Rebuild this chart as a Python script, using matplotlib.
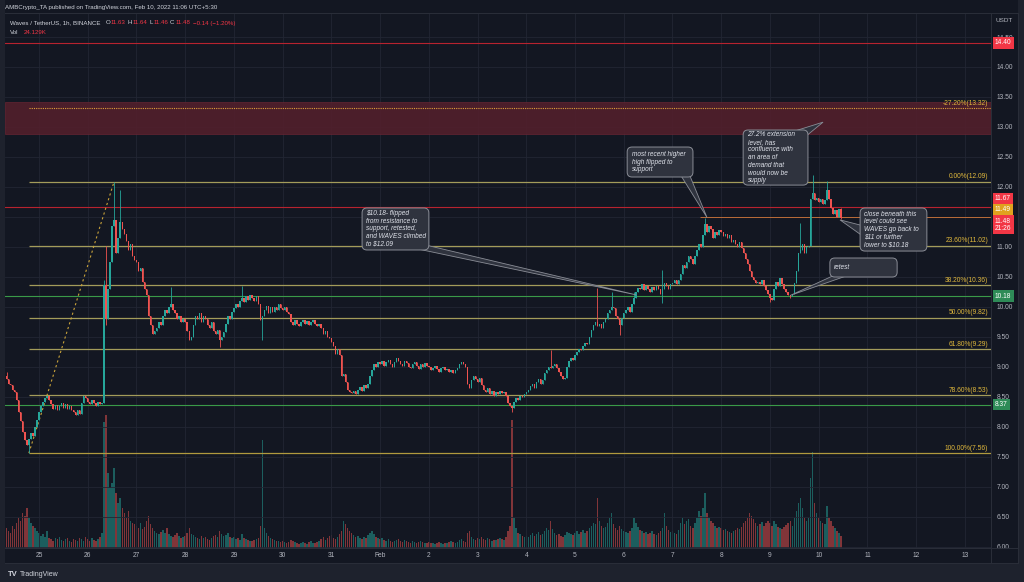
import numpy as np
import pandas as pd
import matplotlib.pyplot as plt
from matplotlib.patches import FancyBboxPatch, Polygon, Rectangle
from matplotlib.transforms import blended_transform_factory

plt.rcParams['font.family'] = ['Liberation Sans', 'DejaVu Sans']

# WAVES/USDT 1h closes (chart time UTC+5:30), Jan 24 08:00 -> Feb 10 11:00
jan24 = [8.80, 8.72, 8.70, 8.62, 8.58, 8.45, 8.25, 8.10, 7.92, 7.78, 7.70, 7.80, 7.90, 7.85, 8.00, 8.12]
jan25 = [8.25, 8.35, 8.42, 8.48, 8.52, 8.45, 8.38, 8.30, 8.36, 8.28, 8.34, 8.40, 8.32, 8.38, 8.30, 8.34, 8.28, 8.25, 8.20, 8.28, 8.22, 8.40, 8.52, 8.48]
jan26 = [8.42, 8.38, 8.45, 8.40, 8.35, 8.42, 8.38, 8.40, 10.36, 9.80, 10.30, 10.75, 11.35, 11.45, 10.90, 11.15, 11.42, 11.30, 11.22, 11.10, 10.95, 11.05, 10.85, 10.78]
jan27 = [10.75, 10.60, 10.65, 10.42, 10.30, 10.20, 9.85, 9.70, 9.55, 9.60, 9.65, 9.75, 9.70, 9.85, 9.95, 9.90, 10.00, 10.05, 9.95, 9.90, 9.80, 9.85, 9.75, 9.80]
jan28 = [9.75, 9.60, 9.45, 9.50, 9.70, 9.85, 9.80, 9.90, 9.75, 9.85, 9.80, 9.70, 9.65, 9.75, 9.60, 9.55, 9.62, 9.45, 9.50, 9.58, 9.72, 9.85, 9.80, 9.92]
jan29 = [9.98, 10.05, 10.00, 10.10, 10.15, 10.08, 10.18, 10.12, 10.20, 10.15, 10.10, 10.18, 10.05, 9.78, 9.85, 9.95, 10.02, 9.90, 10.00, 9.92, 10.00, 9.95, 10.05, 9.98]
jan30 = [9.95, 10.00, 9.92, 9.88, 9.75, 9.70, 9.78, 9.72, 9.68, 9.75, 9.78, 9.72, 9.76, 9.70, 9.74, 9.78, 9.72, 9.68, 9.72, 9.65, 9.55, 9.60, 9.50, 9.48]
jan31 = [9.42, 9.35, 9.22, 9.30, 9.20, 8.85, 8.88, 8.75, 8.62, 8.58, 8.56, 8.60, 8.55, 8.62, 8.66, 8.60, 8.70, 8.65, 8.72, 8.85, 8.95, 9.05, 9.00, 9.08]
feb1 = [9.05, 9.10, 9.02, 9.08, 9.12, 9.05, 9.00, 9.08, 9.15, 9.10, 9.05, 9.02, 9.10, 9.06, 9.00, 8.98, 9.05, 9.08, 9.02, 8.96, 9.04, 9.00, 9.06, 9.02]
feb2 = [9.00, 8.95, 8.98, 9.02, 8.96, 8.92, 8.98, 9.00, 8.94, 8.96, 8.92, 8.95, 8.90, 8.94, 8.98, 9.04, 9.08, 9.05, 9.00, 8.72, 8.65, 8.78, 8.85, 8.80]
feb3 = [8.75, 8.82, 8.70, 8.62, 8.58, 8.65, 8.55, 8.60, 8.52, 8.58, 8.55, 8.60, 8.56, 8.58, 8.52, 8.40, 8.35, 8.32, 8.42, 8.48, 8.45, 8.52, 8.50, 8.55]
feb4 = [8.58, 8.62, 8.68, 8.72, 8.65, 8.75, 8.80, 8.72, 8.78, 8.90, 8.95, 9.00, 8.98, 9.02, 9.05, 8.98, 8.92, 8.85, 8.80, 8.82, 9.00, 9.10, 9.15, 9.12]
feb5 = [9.20, 9.25, 9.30, 9.28, 9.35, 9.40, 9.38, 9.50, 9.62, 9.70, 9.75, 9.68, 9.72, 9.65, 9.75, 9.80, 9.90, 9.95, 10.00, 9.98, 9.85, 9.80, 9.70, 9.82]
feb6 = [9.90, 9.95, 10.00, 9.92, 10.05, 10.15, 10.25, 10.32, 10.30, 10.38, 10.28, 10.35, 10.30, 10.25, 10.33, 10.28, 10.35, 10.30, 10.22, 10.30, 10.40, 10.35, 10.30, 10.38]
feb7 = [10.40, 10.45, 10.38, 10.45, 10.55, 10.70, 10.65, 10.75, 10.85, 10.80, 10.72, 10.85, 10.95, 11.05, 11.00, 11.20, 11.38, 11.25, 11.35, 11.30, 11.15, 11.25, 11.20, 11.28]
feb8 = [11.25, 11.18, 11.22, 11.15, 11.20, 11.08, 11.12, 11.05, 11.00, 11.08, 10.98, 10.90, 10.80, 10.72, 10.60, 10.50, 10.45, 10.40, 10.42, 10.38, 10.45, 10.35, 10.28, 10.22]
feb9 = [10.15, 10.12, 10.30, 10.42, 10.35, 10.48, 10.38, 10.30, 10.25, 10.20, 10.18, 10.22, 10.40, 10.60, 10.90, 10.95, 11.05, 10.90, 11.00, 11.02, 11.80, 11.90, 11.78, 11.82]
feb10 = [11.75, 11.80, 11.72, 11.78, 11.95, 11.80, 11.65, 11.55, 11.62, 11.50, 11.63, 11.48]
first_open = 8.85

# wick extremes that stand out from the bodies
wick_high = {"2022-01-24 08:00": 8.92, "2022-01-26 08:00": 10.45, "2022-01-26 09:00": 11.02,
             "2022-01-26 13:00": 12.09, "2022-01-26 16:00": 11.95, "2022-01-27 17:00": 10.33,
             "2022-01-29 04:00": 10.35, "2022-02-04 12:00": 9.28, "2022-02-05 11:00": 10.31,
             "2022-02-05 18:00": 10.25, "2022-02-06 05:00": 10.25, "2022-02-06 19:00": 10.61,
             "2022-02-07 16:00": 11.48, "2022-02-09 15:00": 11.40, "2022-02-09 21:00": 12.20,
             "2022-02-10 04:00": 12.10, "2022-02-10 11:00": 11.64}
wick_low = {"2022-01-24 19:00": 7.56, "2022-01-26 09:00": 9.70, "2022-01-28 17:00": 9.33,
            "2022-01-29 14:00": 9.45, "2022-02-03 17:00": 8.25, "2022-02-05 22:00": 9.53,
            "2022-02-06 19:00": 10.06, "2022-02-09 00:00": 10.08, "2022-02-09 10:00": 10.15,
            "2022-02-10 11:00": 11.46}

# hourly volume, thousands
vjan24 = [40, 35, 30, 45, 38, 50, 60, 55, 70, 65, 80, 60, 50, 45, 40, 35]
vjan25 = [30, 25, 28, 22, 35, 20, 18, 15, 20, 18, 22, 16, 14, 18, 20, 15, 12, 18, 16, 14, 20, 18, 15, 22]
vjan26 = [18, 15, 20, 16, 14, 18, 22, 30, 252, 266, 150, 120, 130, 160, 110, 90, 100, 80, 70, 60, 75, 55, 50, 48]
vjan27 = [45, 40, 50, 38, 42, 55, 65, 48, 40, 35, 30, 28, 32, 36, 30, 40, 28, 25, 22, 26, 30, 24, 20, 22]
vjan28 = [24, 30, 40, 28, 26, 22, 20, 18, 24, 20, 22, 18, 16, 20, 24, 26, 22, 35, 28, 24, 26, 30, 22, 20]
vjan29 = [22, 18, 20, 16, 28, 20, 18, 16, 15, 14, 16, 18, 20, 45, 216, 40, 30, 24, 20, 18, 16, 14, 15, 12]
vjan30 = [14, 12, 10, 12, 16, 14, 12, 10, 9, 11, 12, 10, 9, 12, 14, 11, 10, 12, 15, 18, 22, 16, 20, 24]
vjan31 = [26, 20, 18, 22, 28, 35, 55, 48, 40, 35, 30, 26, 22, 24, 20, 18, 22, 20, 26, 30, 35, 28, 22, 20]
vfeb1 = [18, 20, 16, 14, 18, 15, 12, 14, 16, 18, 14, 12, 16, 14, 12, 10, 14, 12, 10, 12, 14, 12, 10, 11]
vfeb2 = [12, 10, 11, 9, 10, 12, 10, 9, 11, 10, 12, 14, 12, 11, 13, 16, 18, 14, 12, 30, 35, 22, 18, 16]
vfeb3 = [20, 18, 22, 18, 16, 20, 18, 15, 17, 16, 18, 20, 18, 16, 22, 35, 45, 256, 60, 40, 30, 28, 24, 22]
vfeb4 = [24, 22, 26, 30, 24, 28, 32, 26, 28, 35, 40, 36, 55, 38, 30, 26, 28, 24, 22, 26, 32, 30, 28, 26]
vfeb5 = [30, 34, 28, 32, 36, 30, 34, 40, 45, 50, 48, 100, 55, 45, 40, 42, 50, 60, 70, 48, 40, 36, 45, 38]
vfeb6 = [35, 32, 30, 34, 40, 60, 50, 42, 36, 34, 30, 32, 28, 30, 34, 28, 26, 30, 34, 40, 70, 45, 36, 32]
vfeb7 = [34, 30, 28, 36, 50, 60, 48, 55, 58, 45, 40, 50, 60, 75, 65, 80, 110, 70, 60, 55, 50, 45, 40, 42]
vfeb8 = [40, 36, 38, 34, 32, 30, 34, 36, 40, 38, 42, 50, 55, 60, 70, 65, 58, 50, 45, 48, 52, 45, 50, 55]
vfeb9 = [50, 45, 55, 48, 42, 40, 38, 42, 46, 50, 55, 45, 60, 75, 90, 100, 80, 60, 55, 60, 140, 192, 90, 70]
vfeb10 = [60, 55, 50, 48, 85, 60, 55, 45, 40, 35, 30, 24.129]

date_labels = ['25', '26', '27', '28', '29', '30', '31', 'Feb', '2', '3', '4', '5', '6', '7', '8', '9', '10', '11', '12', '13']

fib_pct = [-27.2, 0.0, 23.6, 38.2, 50.0, 61.8, 78.6, 100.0]
fib_price = [13.32, 12.09, 11.02, 10.36, 9.82, 9.29, 8.53, 7.56]
fib_low_time = "2022-01-24 19:00"
fib_high_time = "2022-01-26 13:00"
zone = (12.89, 13.42)
red_levels = [14.40, 11.67]
green_levels = [10.18, 8.37]
flip_level = 11.49
flip_start = "2022-02-07 13:30"

tag_price = [14.40, 11.67, 11.49, 11.48, 10.18, 8.37]
tag_pos = [14.40, 11.80, 11.62, 11.37, 10.18, 8.37]
tag_text = ["14.40", "11.67", "11.49", "11.48\n21:26", "10.18", "8.37"]
hidden_ticks = [11.5]  # covered by the stacked price tags

# ---------------------------------------------------------------
closes = np.array(jan24 + jan25 + jan26 + jan27 + jan28 + jan29 + jan30 + jan31 + feb1 + feb2
                  + feb3 + feb4 + feb5 + feb6 + feb7 + feb8 + feb9 + feb10)
vols = np.array(vjan24 + vjan25 + vjan26 + vjan27 + vjan28 + vjan29 + vjan30 + vjan31 + vfeb1 + vfeb2
                + vfeb3 + vfeb4 + vfeb5 + vfeb6 + vfeb7 + vfeb8 + vfeb9 + vfeb10)
times = pd.date_range("2022-01-24 08:00", periods=len(closes), freq="h")
t0 = pd.Timestamp("2022-01-25")


def day(t):
    return (pd.Timestamp(t) - t0) / pd.Timedelta(days=1)


x = np.array([(t - t0) / pd.Timedelta(days=1) for t in times])
opens = np.r_[first_open, closes[:-1]]
highs = np.maximum(opens, closes)
lows = np.minimum(opens, closes)
for k, v in wick_high.items():
    i = times.get_loc(pd.Timestamp(k))
    highs[i] = max(highs[i], v)
for k, v in wick_low.items():
    i = times.get_loc(pd.Timestamp(k))
    lows[i] = min(lows[i], v)

BG = '#131722'
FRAME = '#1e222d'
UP = '#26a69a'
DOWN = '#ef5350'
TXT = '#b2b5be'
LIGHT = '#d1d4dc'
RED = '#f23645'
GOLD = '#e0b83c'
FIBLINE = '#a39c5a'

W, H = 1024, 582
fig = plt.figure(figsize=(W / 100, H / 100), dpi=100, facecolor=BG)


def fx(px):
    return px / W


def fy(py):
    return 1 - py / H


def frame_rect(x0, y0, x1, y1, color):
    fig.patches.append(Rectangle((fx(x0), fy(y1)), fx(x1) - fx(x0), fy(y0) - fy(y1),
                                 transform=fig.transFigure, fc=color, ec='none', zorder=-5))


frame_rect(0, 563, W, H, FRAME)
frame_rect(0, 0, 5, 563, FRAME)
frame_rect(1018, 0, W, 563, FRAME)

px_per_day = 48.73
day0_px = 39
pos = [fx(5), fy(548), fx(991) - fx(5), fy(13) - fy(548)]
vax = fig.add_axes(pos, zorder=0)
ax = fig.add_axes(pos, zorder=1, sharex=vax)
ax.patch.set_visible(False)
vax.set_facecolor(BG)
for a in (ax, vax):
    for s in a.spines.values():
        s.set_visible(False)

ax.set_xlim((5 - day0_px) / px_per_day, (991 - day0_px) / px_per_day)
ax.set_ylim(14.5 - (548 - 37) / 59.96, 14.5 + (37 - 13) / 59.96)

# volume
up = closes >= opens
vcols = np.where(up, UP, DOWN)
vax.bar(x, vols, width=0.72 / 24, color=vcols, alpha=0.5, linewidth=0)
vax.set_ylim(0, 1070)
vax.tick_params(left=False, labelleft=False, bottom=False, labelbottom=False)

# ticks and grid
ax.set_xticks(np.arange(len(date_labels)))
ax.set_xticklabels(date_labels)
ax.yaxis.tick_right()
yt = np.arange(6.0, 14.51, 0.5)
ax.set_yticks(yt)
ax.set_yticklabels(['' if any(abs(v - h) < 1e-9 for h in hidden_ticks) else f"{v:.2f}" for v in yt])
ax.tick_params(axis='both', length=0, labelsize=4.8, labelcolor=TXT)
ax.tick_params(axis='y', pad=4)
ax.tick_params(axis='x', pad=3)
ax.grid(color='#222633', lw=0.6, zorder=0)
ax.set_axisbelow(True)

# zone and levels
ax.axhspan(zone[0], zone[1], fc='#521f2c', ec='#6a2633', lw=0.5, alpha=0.9, zorder=0.6)
for lv in red_levels:
    ax.axhline(lv, color='#b7232f', lw=0.8, zorder=1)
for lv in green_levels:
    ax.axhline(lv, color='#3a9a48', lw=0.8, zorder=1)
ax.hlines(flip_level, day(flip_start), ax.get_xlim()[1], color='#d4783a', lw=0.6, zorder=1)

xa, xb = day(fib_low_time), day(fib_high_time)
tr = blended_transform_factory(ax.transAxes, ax.transData)
for pct, lv in zip(fib_pct, fib_price):
    if pct < 0:
        ax.hlines(lv, xa, ax.get_xlim()[1], color='#e0a03a', lw=0.8, linestyles=(0, (1, 1)), zorder=1)
    else:
        c = '#b09a3e' if pct == 100 else FIBLINE
        ax.hlines(lv, xa, ax.get_xlim()[1], color=c, lw=0.9, zorder=1)
    ax.text(0.997, lv + 0.02, f"{pct:.2f}%({lv:.2f})", transform=tr, ha='right', va='bottom',
            fontsize=4.8, color=GOLD, zorder=4)
ax.plot([xa, xb], [fib_price[-1], fib_price[1]], color='#c9a33a', lw=0.8, ls=(0, (2, 2.5)), zorder=2)

# candles
ccols = np.where(up, UP, DOWN)
ax.vlines(x, lows, highs, colors=ccols, lw=0.6, zorder=3)
ax.bar(x, np.maximum(np.abs(closes - opens), 0.006), bottom=np.minimum(opens, closes),
       width=0.72 / 24, color=ccols, linewidth=0, zorder=3)

# callouts
BOXFC = '#2f333e'
BOXEC = '#8a8d96'
asp = (1 / 59.96) / (1 / px_per_day)


def callout(box, text, tail, fs=4.7):
    x0, y0, x1, y1 = box
    ax.add_patch(Polygon(tail, closed=True, fc=BOXFC, ec=BOXEC, lw=0.6, zorder=5))
    ax.add_patch(FancyBboxPatch((x0, y0), x1 - x0, y1 - y0,
                                boxstyle="round,pad=0,rounding_size=0.1", mutation_aspect=asp,
                                fc=BOXFC, ec=BOXEC, lw=0.7, zorder=6))
    ax.text(x0 + 0.09, (y0 + y1) / 2, text, ha='left', va='center', fontsize=fs,
            style='italic', color='#e0e3eb', linespacing=1.15, zorder=7)


callout((6.63, 10.948, 8.00, 11.648),
        "\\$10.18- flipped\nfrom resistance to\nsupport, retested,\nand WAVES climbed\nto \\$12.09",
        [(7.80, 10.96), (7.99, 11.02), (day("2022-02-06 06:00"), 10.20)])
callout((12.07, 12.165, 13.42, 12.665),
        "most recent higher\nhigh flipped to\nsupport",
        [(13.18, 12.18), (13.36, 12.18), (day("2022-02-07 17:00"), flip_level)])
callout((14.45, 12.03, 15.78, 12.949),
        "27.2% extension\nlevel, has\nconfluence with\nan area of\ndemand that\nwould now be\nsupply",
        [(15.50, 12.93), (15.76, 12.86), (16.09, 13.08)])
callout((16.85, 10.93, 18.22, 11.648),
        "close beneath this\nlevel could see\nWAVES go back to\n\\$11 or further\nlower to \\$10.18",
        [(16.87, 11.36), (16.87, 11.20), (day("2022-02-10 10:30"), 11.45)])
callout((16.23, 10.497, 17.61, 10.814), "retest",
        [(16.30, 10.52), (16.55, 10.51), (day("2022-02-09 10:00"), 10.19)])

# price tags
for lv, yp, t in zip(tag_price, tag_pos, tag_text):
    if lv in red_levels or lv == closes[-1]:
        fc = RED
    elif lv in green_levels:
        fc = '#2e8b57'
    else:
        fc = '#e0a21e'
    ax.text(1 + 4 / 986, yp, t, transform=tr, ha='left', va='center', fontsize=4.8, color='white',
            linespacing=1.0, bbox=dict(boxstyle='square,pad=0.35', fc=fc, ec='none'),
            clip_on=False, zorder=8)

# frame lines
for (xa0, ya0, xa1, ya1) in [(991, 13, 991, 563), (1018, 13, 1018, 563), (5, 548, 1018, 548),
                             (5, 563, 1018, 563), (5, 13, 1018, 13)]:
    fig.add_artist(plt.Line2D([fx(xa0), fx(xa1)], [fy(ya0), fy(ya1)], color='#2a2e39', lw=0.7,
                              transform=fig.transFigure))

# header, legend, footer
fig.text(fx(5), fy(7), "AMBCrypto_TA published on TradingView.com, Feb 10, 2022 11:06 UTC+5:30",
         fontsize=4.4, color=LIGHT, va='center')

renderer = fig.canvas.get_renderer()


def text_row(x0, y0, parts, fs=4.4):
    px = x0
    for s, c, gap in parts:
        t = fig.text(fx(px), fy(y0), s, fontsize=fs, color=c, va='center')
        px += t.get_window_extent(renderer=renderer).width + gap


text_row(10, 23, [("Waves / TetherUS, 1h, BINANCE", LIGHT, 5), ("O", LIGHT, 0.5), ("11.63", RED, 2),
                  ("H", LIGHT, 0.5), ("11.64", RED, 2), ("L", LIGHT, 0.5), ("11.46", RED, 2),
                  ("C", LIGHT, 0.5), ("11.48", RED, 3), ("\u22120.14 (\u22121.20%)", RED, 0)])
text_row(10, 32, [("Vol", LIGHT, 5), ("24.129K", RED, 0)])
fig.text(fx(1004), fy(20), "USDT", fontsize=4.6, color=TXT, va='center', ha='center')
fig.text(fx(8), fy(574), "TV", fontsize=5.5, color=LIGHT, va='center', weight='bold')
fig.text(fx(20), fy(574), "TradingView", fontsize=5.0, color=LIGHT, va='center')

fig.savefig("out.png", dpi=100, facecolor=fig.get_facecolor())
